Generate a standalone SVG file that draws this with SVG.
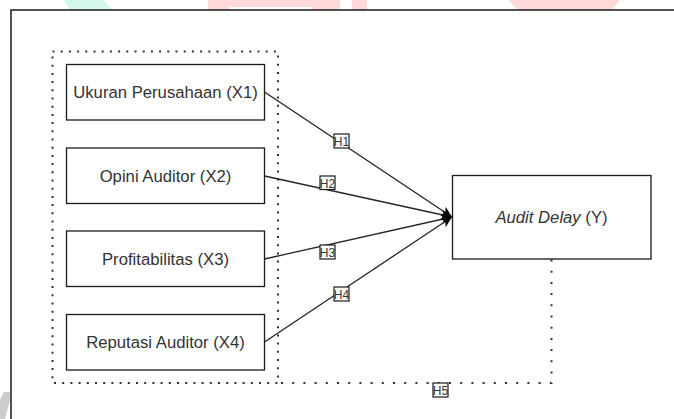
<svg xmlns="http://www.w3.org/2000/svg" width="674" height="419" viewBox="0 0 674 419">
  <style>
    .box { fill: #ffffff; stroke: #1a1a1a; stroke-width: 1.3; }
    .lbl { font-family: "Liberation Sans", Arial, sans-serif; font-size: 16.7px; fill: #333333; text-anchor: middle; }
    .tag rect { fill: #ffffff; stroke: #1a1a1a; stroke-width: 1.2; }
    .tag text { font-family: "Liberation Sans", Arial, sans-serif; font-size: 12px; fill: #333333; text-anchor: middle; }
    .edge { fill: none; stroke: #262626; stroke-width: 1.3; }
    .dots { fill: none; stroke: #333333; stroke-width: 2; }
  </style>
  <defs>
    <marker id="arrow" markerUnits="userSpaceOnUse" markerWidth="12" markerHeight="10" refX="11" refY="5" orient="auto">
      <path d="M0,0 L11,5 L0,10 L3,5 Z" fill="#000000"/>
    </marker>
  </defs>

  <rect width="674" height="419" fill="#ffffff"/>

  <!-- faint background marks along the top and lower-left edges -->
  <g id="background-marks">
    <polygon points="64,0 104,0 112,10 70,10" fill="#d4f7ea"/>
    <polygon points="208,0 340,0 340,10 208,10" fill="#ffd9d9"/>
    <rect x="230" y="7" width="82" height="3" fill="#ffffff"/>
    <polygon points="352,0 367,0 367,10 352,10" fill="#ffd9d9"/>
    <polygon points="508,0 620,0 612,10 518,10" fill="#ffd9d9"/>
    <polygon points="4,392 10,392 10,400 5,419 0,419 0,400" fill="#cccccc"/>
  </g>

  <!-- outer frame (top and left edges) -->
  <g id="frame">
    <path d="M11,419 L11,10 L674,10" fill="none" stroke="#1a1a1a" stroke-width="1.5"/>
  </g>

  <!-- dotted group around the independent variables -->
  <g id="group-x">
    <rect x="52.5" y="51.5" width="225.5" height="331.5" class="dots" stroke-dasharray="2 6.2"/>
  </g>

  <!-- connectors -->
  <g id="connectors">
    <path class="edge" d="M264.5,92 L452,217" marker-end="url(#arrow)"/>
    <path class="edge" d="M264.5,176 L452,217" marker-end="url(#arrow)"/>
    <path class="edge" d="M264.5,259 L452,217" marker-end="url(#arrow)"/>
    <path class="edge" d="M264.5,342 L452,217" marker-end="url(#arrow)"/>
    <path class="dots" d="M551.5,259.5 L551.5,383 L278,383" stroke-dasharray="2 9.2"/>

    <g class="tag" id="h1"><rect x="334" y="134" width="15" height="14"/><text x="341.5" y="145.5">H1</text></g>
    <g class="tag" id="h2"><rect x="320" y="176" width="15" height="13.5"/><text x="327.5" y="187.5">H2</text></g>
    <g class="tag" id="h3"><rect x="320" y="245" width="15" height="14"/><text x="327.5" y="256.5">H3</text></g>
    <g class="tag" id="h4"><rect x="334" y="287" width="15" height="14"/><text x="341.5" y="298.5">H4</text></g>
    <g class="tag" id="h5"><rect x="433" y="383" width="15" height="14"/><text x="440.5" y="394.5">H5</text></g>
  </g>

  <!-- variable nodes -->
  <g id="x1">
    <rect class="box" x="66.5" y="64.5" width="198" height="55.5"/>
    <text class="lbl" x="165.5" y="98">Ukuran Perusahaan (X1)</text>
  </g>
  <g id="x2">
    <rect class="box" x="66.5" y="148" width="198" height="55.5"/>
    <text class="lbl" x="165.5" y="181.5">Opini Auditor (X2)</text>
  </g>
  <g id="x3">
    <rect class="box" x="66.5" y="231" width="198" height="55.5"/>
    <text class="lbl" x="165.5" y="264.5">Profitabilitas (X3)</text>
  </g>
  <g id="x4">
    <rect class="box" x="66.5" y="314.5" width="198" height="55.5"/>
    <text class="lbl" x="165.5" y="348">Reputasi Auditor (X4)</text>
  </g>
  <g id="y">
    <rect class="box" x="452.5" y="175.5" width="198.5" height="83.5"/>
    <text class="lbl" x="551.5" y="223"><tspan font-style="italic">Audit Delay</tspan> (Y)</text>
  </g>
</svg>
